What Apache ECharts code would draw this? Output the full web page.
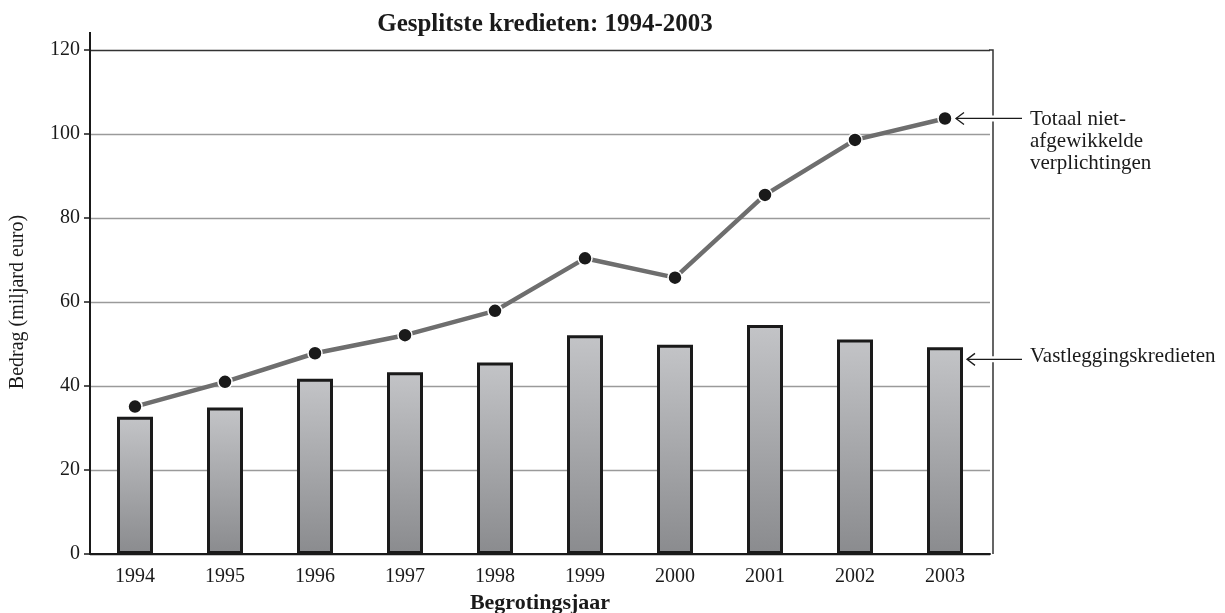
<!DOCTYPE html>
<html>
<head>
<meta charset="utf-8">
<script src="https://cdn.jsdelivr.net/npm/echarts@6/dist/echarts.min.js"></script>
<style>
  html, body { margin: 0; padding: 0; background: #fff; }
  #chart { width: 1225px; height: 613px; }
</style>
</head>
<body>
<div id="chart"></div>
<script>
// data
var years = ['1994', '1995', '1996', '1997', '1998', '1999', '2000', '2001', '2002', '2003'];
var vastlegging = [32.7, 34.9, 41.7, 43.3, 45.6, 52.1, 49.8, 54.5, 51.1, 49.2];
var nietAfgewikkeld = [35.1, 41.0, 47.8, 52.1, 57.9, 70.4, 65.8, 85.5, 98.6, 103.7];
var yTicks = [0, 20, 40, 60, 80, 100, 120];

var font = 'Liberation Serif';
var myChart = echarts.init(document.getElementById('chart'));

var option = {
  backgroundColor: '#ffffff',
  animation: false,
  textStyle: { fontFamily: font },
  title: {
    text: 'Gesplitste kredieten: 1994-2003',
    left: 540,
    top: 7,
    textAlign: 'center',
    textStyle: { fontFamily: font, fontSize: 25, fontWeight: 'bold', color: '#1a1a1a' }
  },
  grid: {
    left: 90,
    right: 235,
    top: 50,
    bottom: 59,
    outerBoundsMode: 'none',
    containLabel: false
  },
  xAxis: {
    type: 'category',
    data: years,
    name: 'Begrotingsjaar',
    nameLocation: 'middle',
    nameGap: 38,
    nameTextStyle: { fontFamily: font, fontSize: 22, fontWeight: 'bold', color: '#1a1a1a' },
    axisLine: { lineStyle: { color: '#1a1a1a', width: 2 } },
    axisTick: { show: false },
    axisLabel: { fontFamily: font, fontSize: 20, color: '#1a1a1a', margin: 13 },
    splitLine: { show: false }
  },
  yAxis: {
    type: 'value',
    min: yTicks[0],
    max: yTicks[yTicks.length - 1],
    interval: 20,
    name: 'Bedrag (miljard euro)',
    nameLocation: 'middle',
    nameGap: 62,
    nameTextStyle: { fontFamily: font, fontSize: 20, color: '#1a1a1a' },
    axisLine: { show: true, lineStyle: { color: '#1a1a1a', width: 2 } },
    axisTick: { show: true, length: 6, lineStyle: { color: '#1a1a1a', width: 1.5 } },
    axisLabel: { fontFamily: font, fontSize: 20, color: '#1a1a1a', margin: 10 },
    splitLine: { show: true, lineStyle: { color: ['#1a1a1a', '#9a9a9a', '#9a9a9a', '#9a9a9a', '#9a9a9a', '#9a9a9a', '#333'], width: 1.3 } }
  },
  series: [
    {
      name: 'Vastleggingskredieten',
      type: 'bar',
      data: vastlegging,
      barWidth: 36,
      itemStyle: {
        borderColor: '#1a1a1a',
        borderWidth: 3,
        color: new echarts.graphic.LinearGradient(0, 0, 0, 1, [
          { offset: 0, color: '#c3c4c7' },
          { offset: 1, color: '#8a8b8e' }
        ])
      },
      z: 2
    },
    {
      name: 'Totaal niet-afgewikkelde verplichtingen',
      type: 'line',
      data: nietAfgewikkeld,
      symbol: 'circle',
      symbolSize: 14,
      lineStyle: { color: '#6e6e6e', width: 4.5 },
      itemStyle: { color: '#1a1a1a', borderColor: '#ffffff', borderWidth: 1.5 },
      z: 3
    }
  ]
};
myChart.setOption(option);

// annotations: arrows point at the last line point and the last bar
var last = years.length - 1;
var pLine = myChart.convertToPixel({ seriesIndex: 1 }, [last, nietAfgewikkeld[last]]);
var pBar = myChart.convertToPixel({ seriesIndex: 0 }, [last, vastlegging[last]]);
var pTop = myChart.convertToPixel({ yAxisIndex: 0 }, yTicks[yTicks.length - 1]);
var pZero = myChart.convertToPixel({ yAxisIndex: 0 }, yTicks[0]);
var leftX = myChart.convertToPixel({ xAxisIndex: 0 }, years[0]) - 45;
var rightX = myChart.convertToPixel({ xAxisIndex: 0 }, years[last]) + 45;

function arrow(x1, x2, y) {
  return [
    { type: 'line', shape: { x1: x2 + 2, y1: y, x2: x1, y2: y }, style: { stroke: '#fff', lineWidth: 6 }, z: 10 },
    { type: 'line', shape: { x1: x2, y1: y, x2: x1, y2: y }, style: { stroke: '#1a1a1a', lineWidth: 1.3 }, z: 11 },
    { type: 'polyline', shape: { points: [[x2 + 8, y - 6], [x2, y], [x2 + 8, y + 6]] }, style: { stroke: '#1a1a1a', lineWidth: 1.3, fill: null }, z: 11 }
  ];
}

var txt = { fontFamily: font, fontSize: 21, fill: '#1a1a1a' };
myChart.setOption({
  graphic: [
    { type: 'line', shape: { x1: leftX, y1: pTop - 18, x2: leftX, y2: pTop }, style: { stroke: '#1a1a1a', lineWidth: 2 } },
    { type: 'polyline', shape: { points: [[rightX - 1, pTop], [rightX + 3, pTop], [rightX + 3, pZero]] }, style: { stroke: '#333', lineWidth: 1.5, fill: null }, z: 5 }
  ].concat(arrow(1022, pLine[0] + 11, pLine[1]))
   .concat(arrow(1022, pBar[0] + 22, pBar[1] + 12))
   .concat([
    { type: 'text', left: 1030, top: pLine[1] - 10, style: Object.assign({ text: 'Totaal niet-\nafgewikkelde\nverplichtingen', lineHeight: 22 }, txt) },
    { type: 'text', left: 1030, top: pBar[1] - 1, style: Object.assign({ text: 'Vastleggingskredieten' }, txt) }
  ])
});

window.onresize = function () {
  myChart.resize();
};
</script>
</body>
</html>
